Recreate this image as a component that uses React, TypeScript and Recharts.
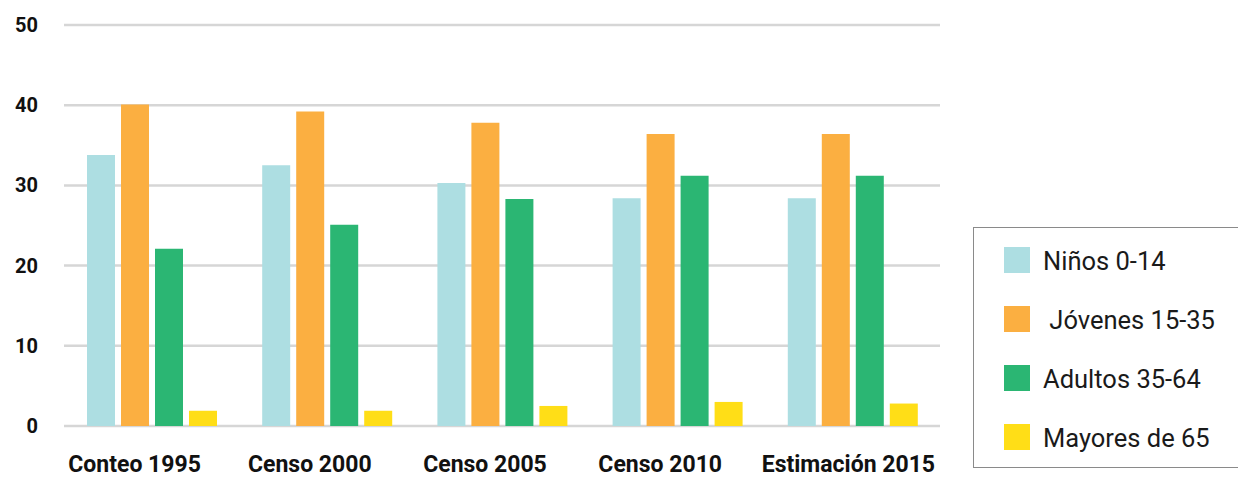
import { BarChart, Bar, XAxis, YAxis, CartesianGrid, Legend } from 'recharts'

const categories = ['Conteo 1995', 'Censo 2000', 'Censo 2005', 'Censo 2010', 'Estimación 2015']
const ninos = [33.8, 32.5, 30.3, 28.4, 28.4]
const jovenes = [40.1, 39.2, 37.8, 36.4, 36.4]
const adultos = [22.1, 25.1, 28.3, 31.2, 31.2]
const mayores = [1.9, 1.9, 2.5, 3.0, 2.8]
const yTicks = [0, 10, 20, 30, 40, 50]

const series = [
  { key: 'ninos', name: 'Niños 0-14', color: '#addee2' },
  { key: 'jovenes', name: ' Jóvenes 15-35', color: '#fbaf41' },
  { key: 'adultos', name: 'Adultos 35-64', color: '#2bb673' },
  { key: 'mayores', name: 'Mayores de 65', color: '#ffde17' },
]

const data = categories.map((c, i) => ({
  name: c,
  ninos: ninos[i],
  jovenes: jovenes[i],
  adultos: adultos[i],
  mayores: mayores[i],
}))

const font = 'Roboto, "DejaVu Sans", sans-serif'

function XTick({ x, y, payload, index }: any) {
  // last label sits closer to its group (it would run past the grid otherwise)
  const shift = index === categories.length - 1 ? -4 : -17
  return (
    <text x={x + shift} y={y + 46} textAnchor="middle" fontFamily={font} fontWeight={700} fontSize={23} fill="#111">
      {payload.value}
    </text>
  )
}

function YTick({ y, payload }: any) {
  return (
    <text x={38} y={y + 7} textAnchor="end" fontFamily={font} fontWeight={700} fontSize={20} fill="#111">
      {payload.value}
    </text>
  )
}

function LegendBox() {
  return (
    <div style={{ width: 266, height: 241, boxSizing: 'border-box', border: '1px solid #8a8a8a', background: '#fff', position: 'relative', fontFamily: font }}>
      {series.map((s, i) => (
        <div key={s.key} style={{ position: 'absolute', left: 30, top: 19 + i * 59, display: 'flex', alignItems: 'center' }}>
          <div style={{ width: 26, height: 26, background: s.color }} />
          <span style={{ marginLeft: 13, fontSize: 25.5, color: '#1a1a1a', whiteSpace: 'pre', lineHeight: '26px', position: 'relative', top: 1 }}>{s.name}</span>
        </div>
      ))}
    </div>
  )
}

export default function App() {
  return (
    <div style={{ position: 'absolute', left: 0, top: 0, width: 1238, height: 479, background: '#fff' }}>
      <BarChart width={1238} height={479} data={data} margin={{ top: 25, right: 32, left: 0, bottom: 0 }} barGap={6} barSize={28}>
        <CartesianGrid vertical={false} stroke="#d6d6d6" strokeWidth={2.5} />
        <XAxis dataKey="name" axisLine={false} tickLine={false} tickSize={0} tickMargin={0} height={53} tick={<XTick />} interval={0} />
        <YAxis domain={[0, 50]} ticks={yTicks} axisLine={false} tickLine={false} width={64} tick={<YTick />} />
        <Legend
          layout="vertical"
          align="right"
          verticalAlign="bottom"
          width={266}
          content={() => <LegendBox />}
          wrapperStyle={{ position: 'absolute', left: 973, top: 227, width: 266, height: 241 }}
        />
        {series.map((s) => (
          <Bar key={s.key} dataKey={s.key} name={s.name} fill={s.color} isAnimationActive={false} />
        ))}
      </BarChart>
    </div>
  )
}
